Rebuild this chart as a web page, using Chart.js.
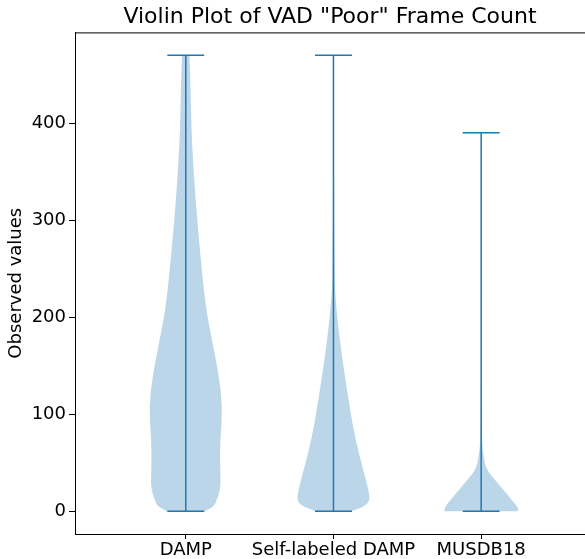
<!DOCTYPE html>
<html>
<head>
<meta charset="utf-8">
<script src="https://cdn.jsdelivr.net/npm/chart.js@4/dist/chart.umd.min.js"></script>
<style>
  html, body { margin: 0; padding: 0; background: #fff; }
  #wrap { width: 585px; height: 559px; }
</style>
</head>
<body>
<div id="wrap"><canvas id="violin"></canvas></div>
<script>
// categories and where they sit on the x axis
const categories = ["DAMP", "Self-labeled DAMP", "MUSDB18"];
const positions = [1, 2, 3];
const yTicks = [0, 100, 200, 300, 400];

// extremes of each group
const mins = [0, 0, 0];
const maxs = [470, 470, 390];

// violin outlines: value on y, relative half width (1 = widest)
const dampValues = [0, 4, 11, 25, 45, 73, 107, 142, 176, 210, 262, 313, 382, 440, 470];
const dampWidths = [0.5, 0.74, 0.84, 0.95, 0.93, 0.93, 1.0, 0.89, 0.71, 0.54, 0.40, 0.28, 0.16, 0.13, 0.1];
const selfValues = [0, 4, 11, 25, 45, 73, 107, 142, 176, 210, 240, 470];
const selfWidths = [0.47, 0.8, 1.0, 0.93, 0.79, 0.6, 0.44, 0.30, 0.17, 0.077, 0.02, 0.005];
const musValues = [0, 4, 15, 29, 37, 45, 63, 80, 150, 390];
const musWidths = [1.0, 1.0, 0.75, 0.45, 0.27, 0.12, 0.04, 0.015, 0.005, 0.002];

const profiles = [
  {values: dampValues, widths: dampWidths},
  {values: selfValues, widths: selfWidths},
  {values: musValues, widths: musWidths}
];

const blue = "#1f77b4";
const bodyFill = "rgba(31,119,180,0.3)";
const halfWidth = 0.25;   // widest half width, in x units
const capHalf = 0.125;

// whisker lines as datasets
const datasets = [];
positions.forEach((p, i) => {
  datasets.push({data: [{x: p, y: mins[i]}, {x: p, y: maxs[i]}]});
  datasets.push({data: [{x: p - capHalf, y: mins[i]}, {x: p + capHalf, y: mins[i]}]});
  datasets.push({data: [{x: p - capHalf, y: maxs[i]}, {x: p + capHalf, y: maxs[i]}]});
});
datasets.forEach(d => {
  d.showLine = true;
  d.borderColor = blue;
  d.borderWidth = 1.5;
  d.pointRadius = 0;
  d.fill = false;
});

function curveThrough(ctx, pts) {
  for (let i = 1; i < pts.length - 1; i++) {
    const mx = (pts[i][0] + pts[i + 1][0]) / 2;
    const my = (pts[i][1] + pts[i + 1][1]) / 2;
    ctx.quadraticCurveTo(pts[i][0], pts[i][1], mx, my);
  }
  const last = pts[pts.length - 1];
  ctx.lineTo(last[0], last[1]);
}

const violinBodies = {
  id: "violinBodies",
  beforeDatasetsDraw(chart) {
    const {ctx, chartArea, scales} = chart;
    const xs = scales.x, ys = scales.y;
    ctx.save();
    ctx.beginPath();
    ctx.rect(chartArea.left, chartArea.top, chartArea.right - chartArea.left, chartArea.bottom - chartArea.top);
    ctx.clip();
    profiles.forEach((pr, i) => {
      const p = positions[i];
      const left = pr.values.map((v, k) => [xs.getPixelForValue(p - halfWidth * pr.widths[k]), ys.getPixelForValue(v)]);
      const right = pr.values.map((v, k) => [xs.getPixelForValue(p + halfWidth * pr.widths[k]), ys.getPixelForValue(v)]).reverse();
      ctx.beginPath();
      ctx.moveTo(left[0][0], left[0][1]);
      curveThrough(ctx, left);
      ctx.lineTo(right[0][0], right[0][1]);
      curveThrough(ctx, right);
      ctx.closePath();
      ctx.fillStyle = bodyFill;
      ctx.fill();
    });
    ctx.restore();
  },
  afterDraw(chart) {
    // top spine
    const {ctx, chartArea} = chart;
    ctx.save();
    ctx.strokeStyle = "#000";
    ctx.lineWidth = 1;
    ctx.beginPath();
    ctx.moveTo(chartArea.left, chartArea.top + 0.5);
    ctx.lineTo(chartArea.right, chartArea.top + 0.5);
    ctx.stroke();
    ctx.restore();
  }
};

Chart.defaults.font.family = "'DejaVu Sans', sans-serif";
Chart.defaults.color = "#000";

new Chart(document.getElementById("violin").getContext("2d"), {
  type: "scatter",
  data: {datasets: datasets},
  plugins: [violinBodies],
  options: {
    responsive: true,
    maintainAspectRatio: false,
    animation: false,
    layout: {padding: {left: 0, right: 0, top: 0, bottom: 0}},
    plugins: {
      legend: {display: false},
      tooltip: {enabled: false},
      title: {
        display: true,
        fullSize: false,
        text: 'Violin Plot of VAD "Poor" Frame Count',
        color: "#000",
        font: {size: 22, weight: "normal"},
        padding: {top: 4, bottom: 2}
      }
    },
    scales: {
      x: {
        type: "linear",
        min: 0.25,
        max: 3.703,
        afterBuildTicks: s => { s.ticks = positions.map(v => ({value: v})); },
        afterFit: s => { s.height = 25; },
        ticks: {
          font: {size: 18},
          color: "#000",
          padding: 1,
          maxRotation: 0,
          autoSkip: false,
          callback: v => categories[positions.indexOf(v)] || ""
        },
        grid: {drawOnChartArea: false, color: "#000", tickLength: 5, tickWidth: 1},
        border: {color: "#000", width: 1}
      },
      y: {
        type: "linear",
        min: -23.5,
        max: 493.5,
        afterBuildTicks: s => { s.ticks = yTicks.map(v => ({value: v})); },
        afterFit: s => { s.width = 75; },
        title: {display: true, text: "Observed values", font: {size: 18}, color: "#000", padding: {top: 6, bottom: 4}},
        ticks: {font: {size: 18}, color: "#000", padding: 3},
        grid: {drawOnChartArea: false, color: "#000", tickLength: 6, tickWidth: 1},
        border: {color: "#000", width: 1}
      }
    }
  }
});
</script>
</body>
</html>
